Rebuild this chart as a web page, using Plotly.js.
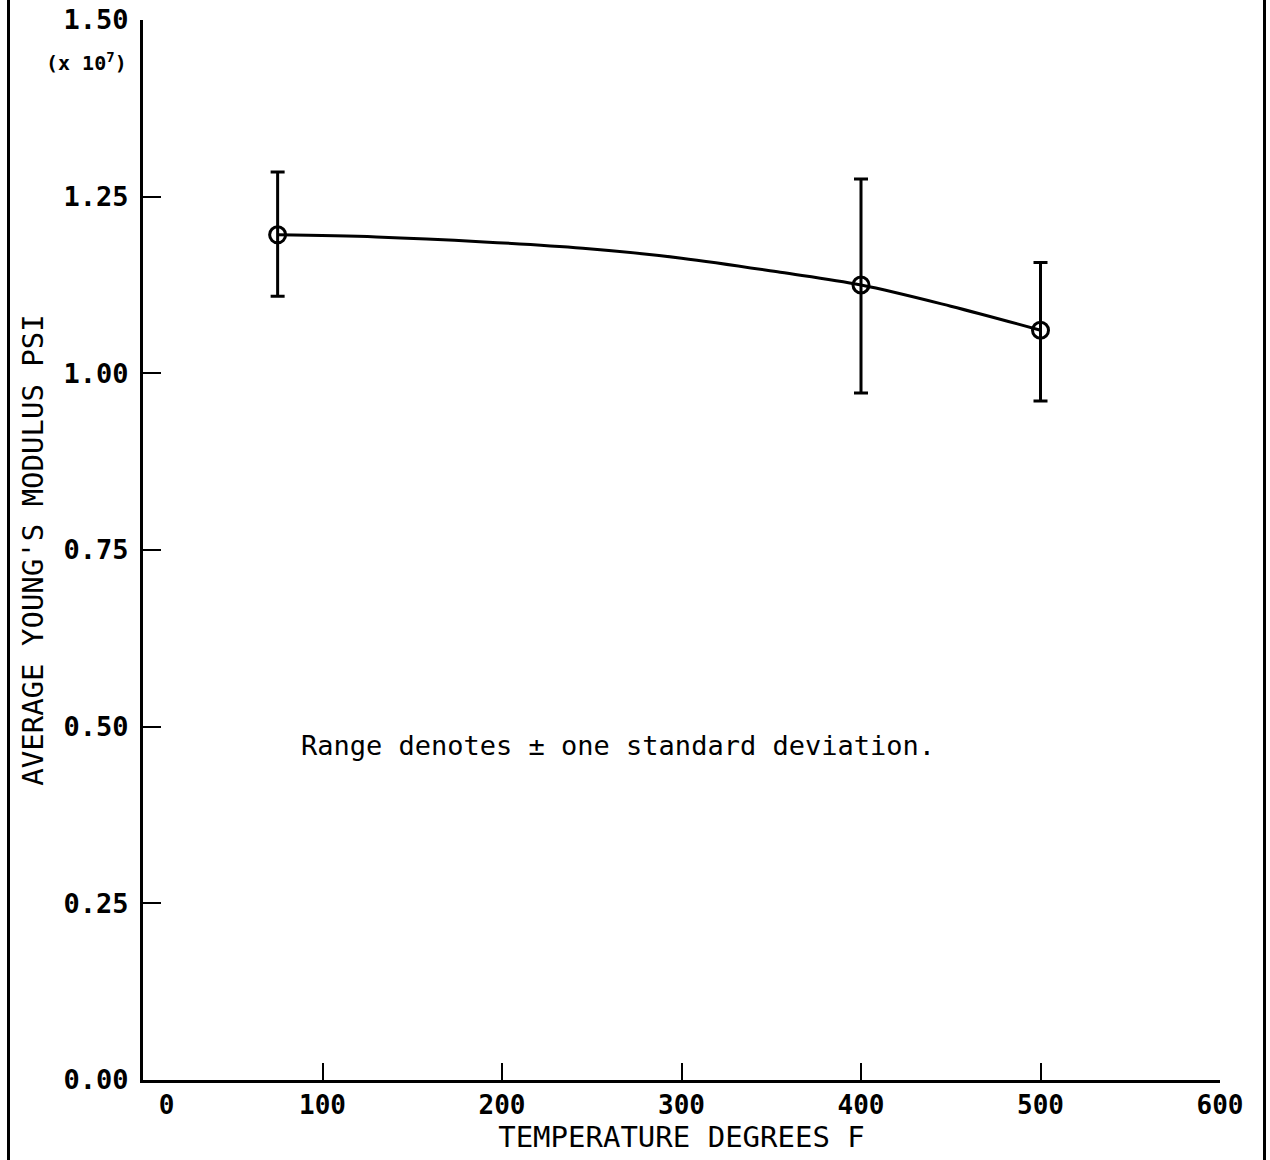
<!DOCTYPE html>
<html>
<head>
<meta charset="utf-8">
<script src="https://cdn.plot.ly/plotly-3.0.1.min.js"></script>
<style>
  html, body { margin: 0; padding: 0; background: #fff; }
  #wrap { position: relative; width: 1270px; height: 1160px; }
  #chart { width: 1270px; height: 1160px; }
  .frame { position: absolute; top: 0; width: 3px; height: 1160px; background: #000; }
</style>
</head>
<body>
<div id="wrap">
  <div id="chart"></div>
  <div class="frame" style="left:7px"></div>
  <div class="frame" style="left:1263px"></div>
</div>
<script>
// Measured data points (temperature, deg F) and average Young's modulus (x 10^7 psi)
const temps = [75, 400, 500];
const modulus = [1.196, 1.125, 1.061];
const sdUpper = [1.285, 1.275, 1.157];
const sdLower = [1.109, 0.972, 0.961];

// Fitted curve
const curveTemps = [75, 130, 190, 245, 300, 355, 400, 450, 500];
const curveModulus = [1.196, 1.193, 1.186, 1.177, 1.163, 1.143, 1.125, 1.095, 1.061];

// Axis ticks
const xTickVals = [0, 100, 200, 300, 400, 500, 600];
const xTickText = ['\u00a0\u00a0\u00a00', '100', '200', '300', '400', '500', '600'];
const yTickVals = [0, 0.25, 0.5, 0.75, 1.0, 1.25, 1.5];

const errPlus = sdUpper.map((u, i) => +(u - modulus[i]).toFixed(3));
const errMinus = sdLower.map((l, i) => +(modulus[i] - l).toFixed(3));

const mono = 'DejaVu Sans Mono, monospace';

const traces = [
  {
    x: curveTemps, y: curveModulus, mode: 'lines', type: 'scatter',
    line: { color: '#000', width: 3, shape: 'spline', smoothing: 1 },
    hoverinfo: 'skip', showlegend: false
  },
  {
    x: temps, y: modulus, mode: 'markers', type: 'scatter',
    marker: { symbol: 'circle-open', size: 16, color: '#000', line: { width: 3, color: '#000' } },
    error_y: {
      type: 'data', symmetric: false, array: errPlus, arrayminus: errMinus,
      color: '#000', thickness: 3, width: 7
    },
    showlegend: false
  }
];

const layout = {
  width: 1270, height: 1160,
  margin: { l: 143, r: 50, t: 20, b: 80 },
  paper_bgcolor: '#fff', plot_bgcolor: '#fff',
  showlegend: false,
  xaxis: {
    range: [0, 600], tickvals: xTickVals, ticktext: xTickText,
    showgrid: false, zeroline: false, showline: true, linecolor: '#000', linewidth: 3,
    ticks: 'inside', ticklen: 17, tickwidth: 2, tickcolor: '#000',
    tickfont: { family: mono, size: 26, color: '#000', weight: 'bold' },
    title: { text: 'TEMPERATURE DEGREES F', font: { family: mono, size: 29, color: '#000' }, standoff: 2 }
  },
  yaxis: {
    range: [0, 1.5], tickvals: yTickVals, tickformat: '.2f',
    showgrid: false, zeroline: false, showline: true, linecolor: '#000', linewidth: 3,
    ticks: 'inside', ticklen: 18, tickwidth: 2, tickcolor: '#000',
    ticklabelstandoff: 6,
    tickfont: { family: mono, size: 27, color: '#000', weight: 'bold' },
    title: { text: "AVERAGE YOUNG'S MODULUS PSI", font: { family: mono, size: 29, color: '#000' }, standoff: 12 }
  },
  annotations: [
    {
      xref: 'paper', yref: 'paper', x: -0.013, y: 0.96, xanchor: 'right', yanchor: 'middle',
      text: '(x 10<sup>7</sup>)', showarrow: false,
      font: { family: mono, size: 20, color: '#000', weight: 'bold' }
    },
    {
      xref: 'x', yref: 'y', x: 87, y: 0.473, xanchor: 'left', yanchor: 'middle',
      text: 'Range denotes \u00b1 one standard deviation.', showarrow: false,
      font: { family: mono, size: 27, color: '#000' }
    }
  ]
};

Plotly.newPlot('chart', traces, layout, { displayModeBar: false, staticPlot: true });
</script>
</body>
</html>
